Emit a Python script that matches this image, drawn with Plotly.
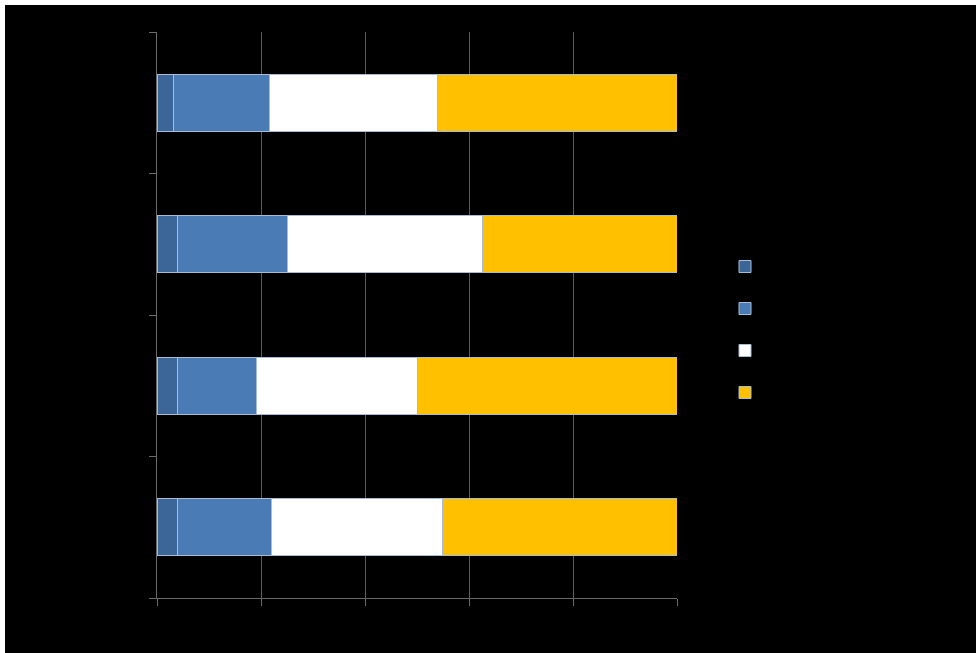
import plotly.graph_objects as go

# Data (bottom -> top category order)
categories = ["Category 1", "Category 2", "Category 3", "Category 4"]
series_names = ["Series 1", "Series 2", "Series 3", "Series 4"]
series1 = [4.0, 4.0, 3.9, 3.2]
series2 = [18.1, 15.2, 21.1, 18.5]
series3 = [32.8, 30.8, 37.5, 32.3]
series4 = [45.1, 50.0, 37.5, 46.0]
x_ticks = [0, 20, 40, 60, 80, 100]

colors = ["#3d6698", "#4a7bb5", "#ffffff", "#ffc000"]
values = [series1, series2, series3, series4]

W, H = 976, 653
L, R, T, B = 157, 677, 32, 598
pw, ph = R - L, B - T

fig = go.Figure()
for i, (name, vals) in enumerate(zip(series_names, values)):
    fig.add_trace(go.Bar(
        y=categories, x=vals, name=name, orientation="h",
        marker=dict(color=colors[i], line=dict(color="#a9bcd6", width=1)),
        legendgroup=f"g{i}",
    ))

def px_to_paper_x(px):
    return (px - L) / pw

def px_to_paper_y(py):
    return (B - py) / ph

white_strips = [
    dict(type="rect", xref="paper", yref="paper", layer="below",
         x0=px_to_paper_x(-5), x1=px_to_paper_x(5),
         y0=px_to_paper_y(H + 5), y1=px_to_paper_y(-5),
         fillcolor="#ffffff", line=dict(width=0)),
    dict(type="rect", xref="paper", yref="paper", layer="below",
         x0=px_to_paper_x(-5), x1=px_to_paper_x(W + 5),
         y0=px_to_paper_y(5), y1=px_to_paper_y(-5),
         fillcolor="#ffffff", line=dict(width=0)),
]

fig.update_layout(
    width=W, height=H,
    barmode="stack",
    bargap=0.6,
    paper_bgcolor="#000000",
    plot_bgcolor="#000000",
    margin=dict(l=L, r=W - R, t=T, b=H - B, pad=0),
    font=dict(family="Liberation Sans, Arial", size=12, color="#000000"),
    showlegend=True,
    legend=dict(
        x=px_to_paper_x(725), y=px_to_paper_y(252),
        xanchor="left", yanchor="top",
        traceorder="grouped",
        tracegroupgap=23,
        bgcolor="rgba(0,0,0,0)",
        font=dict(size=12, color="#000000"),
    ),
    shapes=white_strips,
)

fig.update_xaxes(
    range=[0, 100], tickvals=x_ticks, ticksuffix="%",
    showgrid=True, gridcolor="#5a5a5a", gridwidth=1,
    showline=True, linecolor="#6a6a6a", linewidth=1,
    ticks="outside", ticklen=7, tickcolor="#6a6a6a",
    zeroline=False,
    tickfont=dict(color="#000000"),
)
fig.update_yaxes(
    type="category", categoryorder="array", categoryarray=categories,
    showgrid=False, showline=True, linecolor="#6a6a6a", linewidth=1,
    ticks="outside", ticklen=7, tickcolor="#6a6a6a", tickson="boundaries",
    zeroline=False,
    tickfont=dict(color="#000000"),
)

fig.write_html("out.html")
